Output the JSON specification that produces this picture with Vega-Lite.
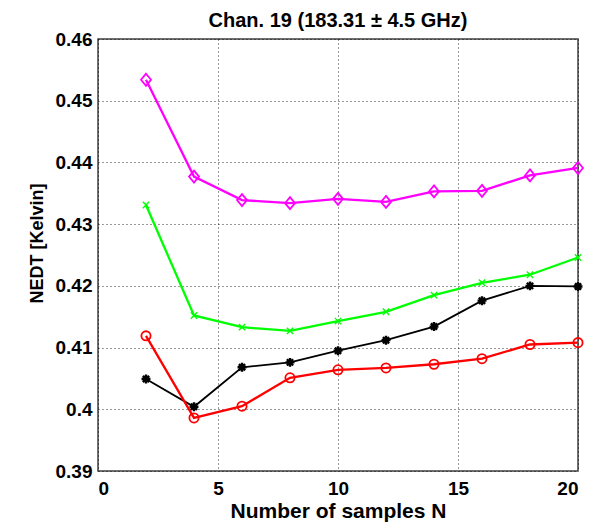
{
  "$schema": "https://vega.github.io/schema/vega-lite/v6.json",
  "width": 480,
  "height": 432,
  "autosize": {"type": "none"},
  "padding": {"left": 98, "top": 39, "right": 21, "bottom": 55},
  "background": "white",
  "title": {"text": "Chan. 19 (183.31 ± 4.5 GHz)", "font": "Liberation Sans", "fontSize": 20, "fontWeight": "bold", "color": "black", "offset": 3, "dy": 20, "baseline": "alphabetic", "anchor": "middle"},
  "config": {
    "view": {"stroke": "#404040", "strokeWidth": 1.5},
    "axis": {"labelFont": "Liberation Sans", "labelFontSize": 19, "labelFontWeight": "bold", "labelColor": "black", "titleFont": "Liberation Sans", "titleFontWeight": "bold", "titleColor": "black", "grid": true, "gridColor": "black", "gridDash": [1, 3], "gridOpacity": 0.8, "domain": false, "ticks": false}
  },
  "data": {"values": [
    {"N": 2, "v": 0.4534, "s": "m"}, {"N": 4, "v": 0.4377, "s": "m"}, {"N": 6, "v": 0.4339, "s": "m"}, {"N": 8, "v": 0.4334, "s": "m"}, {"N": 10, "v": 0.4341, "s": "m"}, {"N": 12, "v": 0.4336, "s": "m"}, {"N": 14, "v": 0.4353, "s": "m"}, {"N": 16, "v": 0.4354, "s": "m"}, {"N": 18, "v": 0.4379, "s": "m"}, {"N": 20, "v": 0.4391, "s": "m"},
    {"N": 2, "v": 0.4331, "s": "g"}, {"N": 4, "v": 0.4152, "s": "g"}, {"N": 6, "v": 0.4133, "s": "g"}, {"N": 8, "v": 0.4127, "s": "g"}, {"N": 10, "v": 0.4143, "s": "g"}, {"N": 12, "v": 0.4158, "s": "g"}, {"N": 14, "v": 0.4185, "s": "g"}, {"N": 16, "v": 0.4205, "s": "g"}, {"N": 18, "v": 0.4218, "s": "g"}, {"N": 20, "v": 0.4246, "s": "g"},
    {"N": 2, "v": 0.4049, "s": "k"}, {"N": 4, "v": 0.4004, "s": "k"}, {"N": 6, "v": 0.4068, "s": "k"}, {"N": 8, "v": 0.4076, "s": "k"}, {"N": 10, "v": 0.4095, "s": "k"}, {"N": 12, "v": 0.4112, "s": "k"}, {"N": 14, "v": 0.4134, "s": "k"}, {"N": 16, "v": 0.4176, "s": "k"}, {"N": 18, "v": 0.4200, "s": "k"}, {"N": 20, "v": 0.4199, "s": "k"},
    {"N": 2, "v": 0.4119, "s": "r"}, {"N": 4, "v": 0.3986, "s": "r"}, {"N": 6, "v": 0.4005, "s": "r"}, {"N": 8, "v": 0.4051, "s": "r"}, {"N": 10, "v": 0.4064, "s": "r"}, {"N": 12, "v": 0.4067, "s": "r"}, {"N": 14, "v": 0.4073, "s": "r"}, {"N": 16, "v": 0.4082, "s": "r"}, {"N": 18, "v": 0.4105, "s": "r"}, {"N": 20, "v": 0.4108, "s": "r"}
  ]},
  "encoding": {
    "x": {"field": "N", "type": "quantitative", "scale": {"domain": [0, 20], "nice": false}, "axis": {"values": [0, 5, 10, 15, 20], "title": "Number of samples N", "titleFontSize": 21, "labelPadding": 8, "titleY": 46, "titleBaseline": "alphabetic"}},
    "y": {"field": "v", "type": "quantitative", "scale": {"domain": [0.39, 0.46], "nice": false, "zero": false}, "axis": {"values": [0.39, 0.40, 0.41, 0.42, 0.43, 0.44, 0.45, 0.46], "format": ".2~f", "title": "NEDT [Kelvin]", "titleFontSize": 18, "labelPadding": 6, "titleX": -56, "titleY": 204, "titleBaseline": "alphabetic"}}
  },
  "layer": [
    {"mark": {"type": "line", "strokeWidth": 2.3, "color": "#ff00ff"}, "transform": [{"filter": "datum.s == 'm'"}]},
    {"mark": {"type": "line", "strokeWidth": 2.3, "color": "#00ff00"}, "transform": [{"filter": "datum.s == 'g'"}]},
    {"mark": {"type": "line", "strokeWidth": 1.8, "color": "#000000"}, "transform": [{"filter": "datum.s == 'k'"}]},
    {"mark": {"type": "line", "strokeWidth": 2.3, "color": "#ff0000"}, "transform": [{"filter": "datum.s == 'r'"}]},
    {"mark": {"type": "point", "filled": false, "opacity": 1, "color": "#ff00ff", "strokeWidth": 1.8, "size": 144, "shape": "M0,-1L0.83,0L0,1L-0.83,0Z"}, "transform": [{"filter": "datum.s == 'm'"}]},
    {"mark": {"type": "point", "filled": false, "opacity": 1, "color": "#00ff00", "strokeWidth": 1.4, "size": 40, "shape": "M-1,-1L1,1M-1,1L1,-1"}, "transform": [{"filter": "datum.s == 'g'"}]},
    {"mark": {"type": "point", "filled": false, "opacity": 1, "color": "#000000", "strokeWidth": 2.4, "size": 80, "shape": "M-1,0L1,0M0,-1L0,1M-0.7,-0.7L0.7,0.7M-0.7,0.7L0.7,-0.7"}, "transform": [{"filter": "datum.s == 'k'"}]},
    {"mark": {"type": "point", "filled": false, "opacity": 1, "color": "#ff0000", "strokeWidth": 1.8, "size": 85, "shape": "circle"}, "transform": [{"filter": "datum.s == 'r'"}]}
  ]
}
